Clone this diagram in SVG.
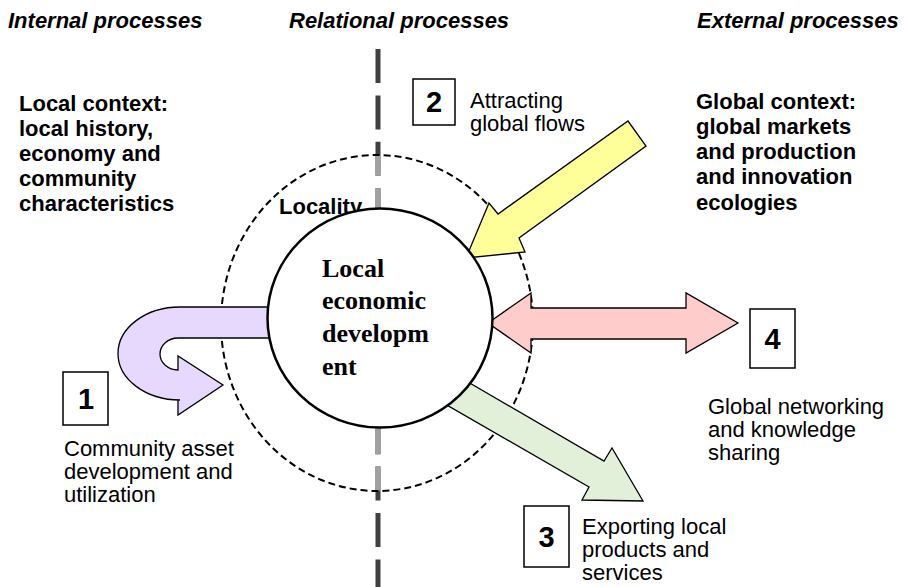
<svg xmlns="http://www.w3.org/2000/svg" width="905" height="587" viewBox="0 0 905 587">
<style>
  .hdr{font-family:"Liberation Sans",Arial,sans-serif;font-size:22px;font-weight:bold;font-style:italic;fill:#000}
  .ctx{font-family:"Liberation Sans",Arial,sans-serif;font-size:22px;font-weight:bold;fill:#000}
  .lbl{font-family:"Liberation Sans",Arial,sans-serif;font-size:22px;fill:#000}
  .num{font-family:"Liberation Sans",Arial,sans-serif;font-size:29px;font-weight:bold;fill:#000;text-anchor:middle}
  .box{fill:#fff;stroke:#000;stroke-width:1.5}
  .arrow{stroke:#000;stroke-width:1.3;stroke-linejoin:miter}
  .ctr{font-family:"Liberation Serif","Times New Roman",serif;font-size:26px;font-weight:bold;fill:#000}
</style>
<defs>
  <clipPath id="inside">
    <ellipse cx="377" cy="323" rx="156" ry="168"/>
  </clipPath>
</defs>
<rect width="905" height="587" fill="#fff"/>

<g id="headers">
  <text class="hdr" x="8" y="28">Internal processes</text>
  <text class="hdr" x="289" y="28">Relational processes</text>
  <text class="hdr" x="697" y="28">External processes</text>
</g>

<g id="divider">
  <line x1="378" y1="49" x2="378" y2="587" stroke="#404040" stroke-width="5" stroke-dasharray="34 12.4"/>
  <line x1="378" y1="49" x2="378" y2="587" stroke="#a0a0a0" stroke-width="5" stroke-dasharray="34 12.4" clip-path="url(#inside)"/>
</g>

<g id="local-context">
  <text class="ctx" x="19" y="111">Local context:</text>
  <text class="ctx" x="19" y="136">local history,</text>
  <text class="ctx" x="19" y="161">economy and</text>
  <text class="ctx" x="19" y="186">community</text>
  <text class="ctx" x="19" y="211">characteristics</text>
</g>

<g id="global-context">
  <text class="ctx" x="696" y="109">Global context:</text>
  <text class="ctx" x="696" y="134">global markets</text>
  <text class="ctx" x="696" y="159">and production</text>
  <text class="ctx" x="696" y="184">and innovation</text>
  <text class="ctx" x="696" y="210">ecologies</text>
</g>

<g id="locality">
  <text class="ctx" x="279" y="214">Locality</text>
  <ellipse cx="377" cy="323" rx="156" ry="168" fill="none" stroke="#000" stroke-width="2" stroke-dasharray="7 4"/>
</g>

<g id="connectors">
  <path class="arrow" fill="#E6D9FD" d="M 280,307 L 180,307 A 62,46.5 0 0 0 180,400 L 178,400 L 178,415 L 223,385 L 178,356 L 178,370 A 18,16 0 0 1 178,338 L 280,338 Z"/>
  <polygon class="arrow" fill="#FFFF99" points="628,121 646,146 519,238 525,252 466,258 489,203 498,214"/>
  <polygon class="arrow" fill="#FFCCCC" points="488,323 531,293 531,308 686,308 686,293 738,323 686,353 686,339 531,339 531,353"/>
  <polygon class="arrow" fill="#E2EFD9" points="456,375 604,461 612,448 643,501 582,500 589,487 433,397"/>
</g>

<g id="led">
  <ellipse cx="380" cy="318" rx="112.5" ry="109.5" fill="#fff" stroke="#000" stroke-width="2.5"/>
  <text class="ctr" x="322" y="277">Local</text>
  <text class="ctr" x="322" y="309">economic</text>
  <text class="ctr" x="322" y="342">developm</text>
  <text class="ctr" x="322" y="375">ent</text>
</g>

<g id="p1">
  <rect class="box" x="63" y="372" width="45" height="53"/>
  <text class="num" x="86" y="409">1</text>
  <text class="lbl" x="64" y="456">Community asset</text>
  <text class="lbl" x="64" y="479">development and</text>
  <text class="lbl" x="64" y="502">utilization</text>
</g>

<g id="p2">
  <rect class="box" x="413" y="79" width="42" height="46"/>
  <text class="num" x="434" y="112">2</text>
  <text class="lbl" x="470" y="108">Attracting</text>
  <text class="lbl" x="470" y="131">global flows</text>
</g>

<g id="p3">
  <rect class="box" x="524" y="506" width="45" height="61"/>
  <text class="num" x="546.5" y="547">3</text>
  <text class="lbl" x="582" y="534">Exporting local</text>
  <text class="lbl" x="582" y="557">products and</text>
  <text class="lbl" x="582" y="580">services</text>
</g>

<g id="p4">
  <rect class="box" x="750" y="309" width="45" height="59"/>
  <text class="num" x="772.5" y="349">4</text>
  <text class="lbl" x="708" y="414">Global networking</text>
  <text class="lbl" x="708" y="437">and knowledge</text>
  <text class="lbl" x="708" y="460">sharing</text>
</g>
</svg>
